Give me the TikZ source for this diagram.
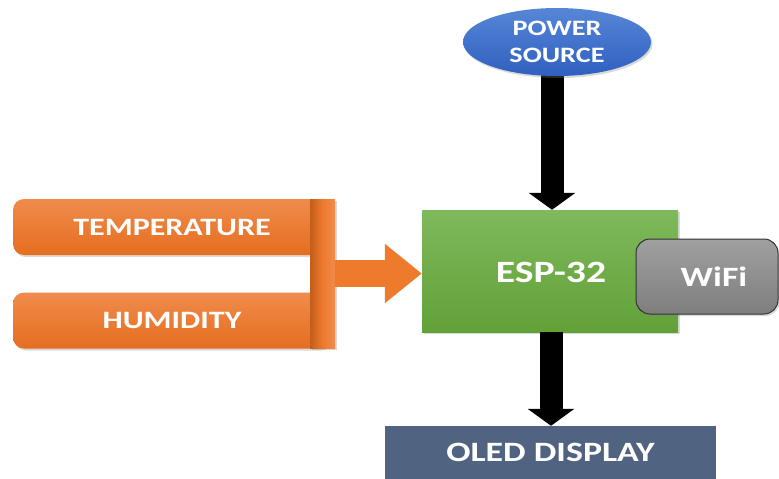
\documentclass[tikz,border=0pt]{standalone}
\usepackage{fontspec}
\setmainfont{Carlito}
\usepackage{graphicx}
\usetikzlibrary{shapes.geometric,arrows.meta,shadows,backgrounds}
\definecolor{orgT}{HTML}{F08B4C}
\definecolor{orgB}{HTML}{E56E1F}
\definecolor{orgA}{HTML}{EE7A2C}
\definecolor{grnT}{HTML}{7EB95B}
\definecolor{grnB}{HTML}{62A138}
\definecolor{bluT}{HTML}{5586D6}
\definecolor{bluB}{HTML}{3060C0}
\definecolor{gryT}{HTML}{A0A0A0}
\definecolor{gryB}{HTML}{7E7E7E}
\definecolor{oled}{HTML}{506482}
\newcommand\sx[1]{\scalebox{1.28}[1]{#1}}
\tikzset{
  lbl/.style={text=white, font=\bfseries},
  shad/.style={drop shadow={opacity=0.3, shadow xshift=1.5pt, shadow yshift=-2pt}},
  orbar/.style={shad, rounded corners=11pt, top color=orgT, bottom color=orgB, draw=none,
    minimum width=318pt, minimum height=56pt, inner sep=0pt, lbl, font=\fontsize{25}{30}\selectfont\bfseries},
  blackarr/.style={line width=23pt, -{Triangle[width=46pt,length=17pt]}},
}
\begin{document}
\begin{tikzpicture}[x=1pt,y=-1pt]
\useasboundingbox (0,0) rectangle (779,479);
% power source
\node[ellipse, shad, minimum width=188pt, minimum height=68pt, inner sep=0pt,
  top color=bluT, bottom color=bluB, lbl, align=center,
  font=\fontsize{22}{27}\selectfont\bfseries] (pwr) at (557,42) {\sx{POWER}\\\sx{SOURCE}};
% ESP-32
\node[shad, minimum width=256pt, minimum height=122pt, inner sep=0pt,
  top color=grnT, bottom color=grnB] (esp) at (550,271) {};
\node[lbl, font=\fontsize{31}{36}\selectfont\bfseries] (esptxt) at (551,272) {\sx{ESP-32}};
% WiFi
\node[shad, rounded corners=14pt, minimum width=142pt, minimum height=75pt, inner sep=0pt,
  top color=gryT, bottom color=gryB, draw=black!80, line width=1pt] (wifi) at (707,276.5) {};
\node[lbl, font=\fontsize{28}{32}\selectfont\bfseries] (wifitxt) at (714,277) {\sx{WiFi}};
% OLED display
\node[minimum width=331pt, minimum height=53pt, inner sep=0pt, fill=oled, lbl,
  font=\fontsize{28}{32}\selectfont\bfseries] (oled) at (550.5,452.5) {\sx{OLED DISPLAY}};
% sensors
\node[orbar] (temp) at (172,227) {\sx{TEMPERATURE}};
\node[orbar] (hum) at (172,320.5) {\sx{HUMIDITY}};
\node[shad, minimum width=25pt, minimum height=149pt, inner sep=0pt,
  left color=orgB!85!black, right color=orgT, middle color=orgA] (bar) at (322.5,273.5) {};
% arrows
\begin{scope}[on background layer]
\draw[blackarr] (pwr.center -| esp.north) ++(2,0) coordinate (pa) -- (pa |- esp.north);
\end{scope}
\draw[blackarr] (esp.south) ++(1,0) coordinate (ea) -- (ea |- oled.north);
\draw[line width=27pt, orgA, -{Triangle[width=57pt,length=37pt]}] (bar.east) -- (bar.east -| esp.west);
\end{tikzpicture}
\end{document}
